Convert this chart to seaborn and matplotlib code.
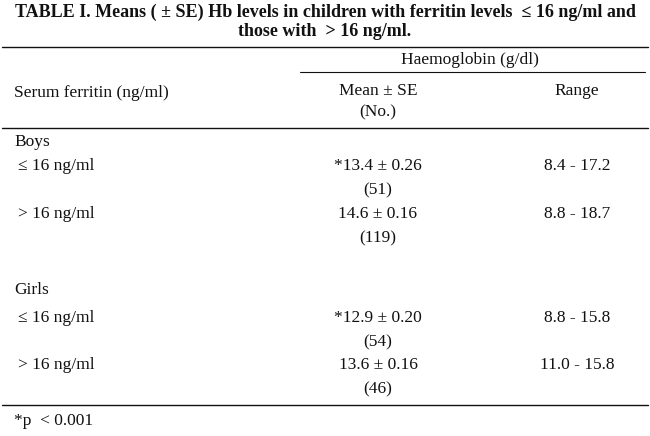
import matplotlib
matplotlib.use("Agg")
import matplotlib.pyplot as plt
import seaborn as sns

sns.set_theme(style="white")
plt.rcParams['font.family'] = ['Liberation Serif', 'DejaVu Serif']

title = ["TABLE I. Means ( \u00b1 SE) Hb levels in children with ferritin levels  \u2264 16 ng/ml and",
         "those with  > 16 ng/ml."]
groups = ["Boys", "Girls"]
row_labels = ["\u2264 16 ng/ml", "> 16 ng/ml", "\u2264 16 ng/ml", "> 16 ng/ml"]
means = ["*13.4 \u00b1 0.26", "14.6 \u00b1 0.16", "*12.9 \u00b1 0.20", "13.6 \u00b1 0.16"]
counts = ["(51)", "(119)", "(54)", "(46)"]
ranges = ["8.4 - 17.2", "8.8 - 18.7", "8.8 - 15.8", "11.0 - 15.8"]
footnote = "*p  < 0.001"

fig = plt.figure(figsize=(6.5, 4.36), dpi=100)
ax = fig.add_axes([0, 0, 1, 1])
ax.set_xlim(0, 650); ax.set_ylim(436, 0); ax.axis("off")
c = "#111111"
fs = 12.5
ax.text(325, 12, title[0], ha="center", va="center", fontsize=13, fontweight="bold", color=c)
ax.text(325, 32, title[1], ha="center", va="center", fontsize=13, fontweight="bold", color=c)
ax.plot([2, 648], [47, 47], color=c, lw=1)
ax.text(470, 60, "Haemoglobin (g/dl)", ha="center", va="center", fontsize=fs, color=c)
ax.plot([300, 645], [72, 72], color=c, lw=0.8)
ax.text(14, 93, "Serum ferritin (ng/ml)", ha="left", va="center", fontsize=fs, color=c)
ax.text(378, 91, "Mean \u00b1 SE", ha="center", va="center", fontsize=fs, color=c)
ax.text(378, 112, "(No.)", ha="center", va="center", fontsize=fs, color=c)
ax.text(577, 91, "Range", ha="center", va="center", fontsize=fs, color=c)
ax.plot([2, 648], [128, 128], color=c, lw=1)

group_y = [142, 290]
row_y = [166, 214, 318, 365]
for g, y in zip(groups, group_y):
    ax.text(14, y, g, ha="left", va="center", fontsize=fs, color=c)
for lab, m, n, r, y in zip(row_labels, means, counts, ranges, row_y):
    ax.text(18, y, lab, ha="left", va="center", fontsize=fs, color=c)
    ax.text(378, y, m, ha="center", va="center", fontsize=fs, color=c)
    ax.text(378, y + 24, n, ha="center", va="center", fontsize=fs, color=c)
    ax.text(577, y, r, ha="center", va="center", fontsize=fs, color=c)
ax.plot([2, 648], [405, 405], color=c, lw=1)
ax.text(14, 421, footnote, ha="left", va="center", fontsize=fs, color=c)
fig.savefig("out.png", dpi=100, facecolor="white")
